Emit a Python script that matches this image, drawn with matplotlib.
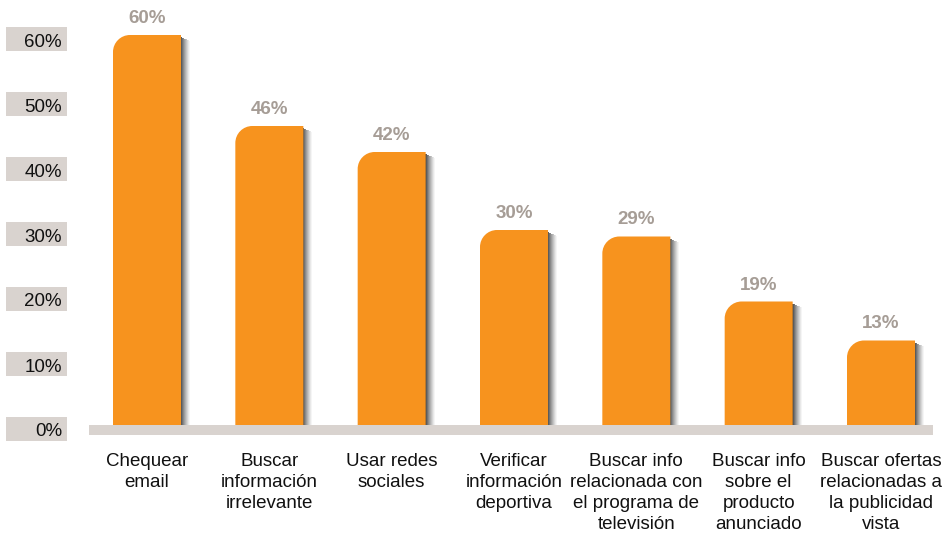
import numpy as np
import matplotlib
matplotlib.use("Agg")
import matplotlib.pyplot as plt
from matplotlib.path import Path
from matplotlib.patches import PathPatch, Rectangle

plt.rcParams['font.family'] = ['Liberation Sans', 'DejaVu Sans']

categories = [
    "Chequear\nemail",
    "Buscar\ninformación\nirrelevante",
    "Usar redes\nsociales",
    "Verificar\ninformación\ndeportiva",
    "Buscar info\nrelacionada con\nel programa de\ntelevisión",
    "Buscar info\nsobre el\nproducto\nanunciado",
    "Buscar ofertas\nrelacionadas a\nla publicidad\nvista",
]
values = [60, 46, 42, 30, 29, 19, 13]
yticks = [0, 10, 20, 30, 40, 50, 60]
ytick_labels = ["0%", "10%", "20%", "30%", "40%", "50%", "60%"]

ORANGE = "#f7931e"
LABEL_GRAY = "#a69d96"
BOX_GRAY = "#d9d3cf"

W, H = 944, 539
fig = plt.figure(figsize=(W / 100, H / 100), dpi=100)
ax = fig.add_axes([0, 0, 1, 1])
ax.set_axis_off()

# pixel scale: bar centres 147 -> 881 px, zero line at 425 px, 6.5 px per percent
px_x = (881 - 147) / (len(values) - 1)
px_y = 6.5
xmin = -147 / px_x
ax.set_xlim(xmin, xmin + W / px_x)
ax.set_ylim(-(H - 425) / px_y, 425 / px_y)

bar_w = 68 / px_x
rx, ry = 17 / px_x, 17 / px_y


def rounded_bar(x0, x1, top):
    k = 0.5523
    verts = [
        (x0, 0), (x0, top - ry),
        (x0, top - ry + k * ry), (x0 + rx - k * rx, top), (x0 + rx, top),
        (x1, top), (x1, 0), (x0, 0),
    ]
    codes = [Path.MOVETO, Path.LINETO,
             Path.CURVE4, Path.CURVE4, Path.CURVE4,
             Path.LINETO, Path.LINETO, Path.CLOSEPOLY]
    return Path(verts, codes)


# baseline band
ax.add_patch(Rectangle((xmin + 89 / px_x, -10 / px_y), (933 - 89) / px_x, 10 / px_y,
                       facecolor=BOX_GRAY, edgecolor="none", zorder=1))

for i, v in enumerate(values):
    x0 = i - bar_w / 2
    x1 = i + bar_w / 2
    # soft shadow on the right side
    n = 10
    for k in range(n):
        a = 0.9 * (1 - k / n) ** 1.3
        ax.add_patch(Rectangle((x1 - 1 / px_x + k * 1.0 / px_x, 0), 1.0 / px_x,
                               v - 2 / px_y - k * 0.4 / px_y,
                               facecolor="#2e2e2e", alpha=a, edgecolor="none", zorder=2))
    ax.add_patch(PathPatch(rounded_bar(x0, x1, v), facecolor=ORANGE,
                           edgecolor="none", zorder=3))
    ax.text(i, v + 12 / px_y, f"{v}%", ha="center", va="baseline",
            fontsize=13.5, fontweight="bold", color=LABEL_GRAY, zorder=4)
    ax.text(i, -28 / px_y, categories[i], ha="center", va="top",
            fontsize=13.5, linespacing=1.3, color="#111111")

# y tick boxes on the left
for t, lab in zip(yticks, ytick_labels):
    yc = t - 3.5 / px_y
    ax.add_patch(Rectangle((xmin + 6 / px_x, yc - 12 / px_y), 61 / px_x, 24 / px_y,
                           facecolor=BOX_GRAY, edgecolor="none", zorder=1))
    ax.text(xmin + 62 / px_x, yc - 1.5 / px_y, lab, ha="right", va="center_baseline",
            fontsize=13.5, color="#111111", zorder=2)

fig.savefig("out.png", dpi=100)
